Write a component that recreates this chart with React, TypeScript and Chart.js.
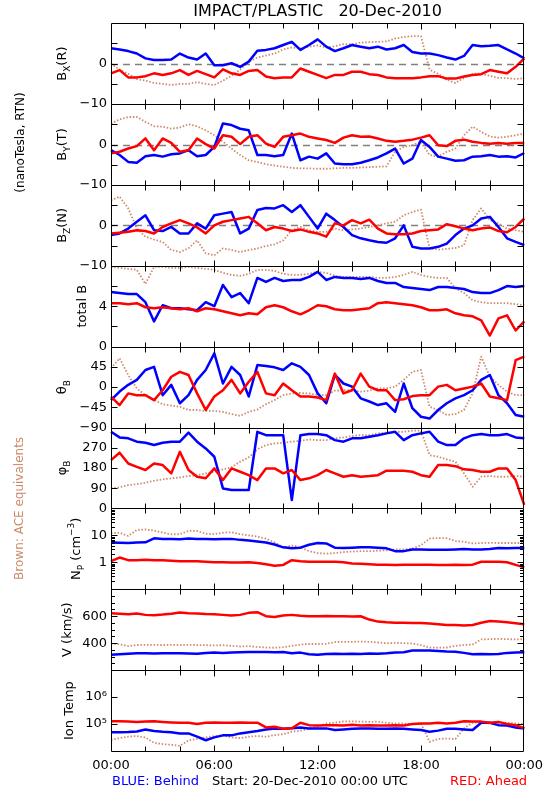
import React, { useEffect, useRef } from 'react';
import { Chart, registerables } from 'chart.js';

Chart.register(...registerables);

const FONT = "'DejaVu Sans', 'Liberation Sans', sans-serif";
const BLUE = '#0000ff';
const RED = '#ff0000';
const BROWN = '#cd8a6b';

// ---- time categories (30-minute steps, 20-Dec-2010 00:00 .. 21-Dec-2010 00:00)
const TIMES = [
  '00:00', '00:30', '01:00', '01:30', '02:00', '02:30', '03:00', '03:30', '04:00', '04:30',
  '05:00', '05:30', '06:00', '06:30', '07:00', '07:30', '08:00', '08:30', '09:00', '09:30',
  '10:00', '10:30', '11:00', '11:30', '12:00', '12:30', '13:00', '13:30', '14:00', '14:30',
  '15:00', '15:30', '16:00', '16:30', '17:00', '17:30', '18:00', '18:30', '19:00', '19:30',
  '20:00', '20:30', '21:00', '21:30', '22:00', '22:30', '23:00', '23:30', '00:00',
];
const X_TICK_LABELS = ['00:00', '06:00', '12:00', '18:00', '00:00'];

// ---- Bx (R), nT
const BX_BLUE = [3.8, 3.5, 3.1, 2.5, 1.3, 0.9, 0.9, 1.0, 2.5, 1.5, 1.0, 2.5, -0.4, -0.4, 0.1, -0.8, 0.5, 3.2, 3.4, 3.8, 4.6, 5.4, 3.4, 4.6, 6.0, 4.2, 3.1, 3.8, 4.6, 4.2, 3.8, 4.2, 3.5, 3.8, 4.6, 2.9, 2.5, 2.5, 2.1, 1.5, 1.0, 1.9, 4.6, 4.3, 4.4, 4.6, 3.5, 2.5, 1.3];
const BX_RED = [-2.4, -1.6, -3.4, -3.4, -3.1, -2.4, -2.8, -2.4, -1.6, -2.8, -1.8, -2.6, -3.4, -1.4, -2.4, -2.8, -1.8, -1.6, -3.2, -3.6, -3.4, -3.4, -1.2, -2.0, -2.8, -3.6, -2.8, -2.8, -2.0, -2.0, -2.6, -2.8, -3.4, -3.6, -3.6, -3.6, -3.4, -3.1, -3.1, -3.7, -3.7, -3.2, -2.8, -2.6, -1.6, -2.0, -2.4, -0.8, 1.3];
const BX_ACE = [0.0, -1.5, -2.5, -3.8, -4.2, -4.8, -5.0, -5.3, -5.0, -5.0, -4.6, -5.0, -5.3, -4.2, -3.0, -1.5, 0.5, 1.5, 2.0, 2.5, 3.5, 4.0, 3.8, 4.2, 4.5, 4.0, 4.3, 4.8, 4.8, 5.2, 5.3, 5.4, 5.5, 6.2, 6.6, 6.8, 6.8, -1.5, -2.5, -4.0, -4.8, -3.5, -2.5, -2.5, -3.0, -3.5, -3.6, -3.8, -3.6];

// ---- By (T), nT
const BY_BLUE = [-1.4, -2.6, -4.3, -4.5, -2.9, -2.6, -3.0, -2.4, -2.2, -1.4, -2.9, -2.6, -0.6, 5.2, 4.8, 3.9, 3.5, -2.6, -2.6, -2.9, -2.6, 2.7, -3.9, -3.0, -3.5, -2.2, -4.7, -4.9, -4.9, -4.5, -3.9, -3.2, -2.2, -1.0, -4.7, -3.5, 1.1, -0.6, -3.0, -3.5, -4.0, -3.9, -3.0, -2.9, -2.6, -3.0, -2.9, -3.2, -2.1];
const BY_RED = [-2.2, -1.8, -1.0, -0.4, 1.5, -1.4, 1.5, 0.4, -1.8, -1.4, 1.5, 0.1, -1.0, 2.3, 1.9, 0.1, 1.9, 2.3, 0.2, -0.6, 1.9, 2.3, 2.7, 1.9, 1.5, 1.1, 0.4, 1.7, 2.3, 1.9, 2.0, 1.5, 0.9, 0.7, 0.9, 1.2, 1.7, 2.3, -0.2, -0.4, 0.9, 1.2, 0.7, 0.4, 0.2, 0.4, 0.2, 0.4, 0.4];
const BY_ACE = [5.2, 6.2, 6.8, 6.8, 5.6, 4.5, 4.4, 3.9, 4.2, 5.0, 4.5, 3.5, 2.3, 0.7, -1.0, -2.6, -3.9, -4.3, -4.9, -5.2, -5.5, -5.8, -5.9, -5.9, -6.0, -6.0, -5.9, -5.8, -5.8, -5.7, -5.6, -5.5, -5.4, -1.8, -0.6, -0.2, 0.7, -2.6, -3.0, -1.8, -1.0, 2.3, 4.4, 3.1, 2.0, 1.7, 1.9, 2.3, 2.7];

// ---- Bz (N), nT
const BZ_BLUE = [-2.4, -2.0, -0.8, 0.9, 2.5, -1.2, -1.4, -0.4, -2.0, -2.0, 0.5, -0.8, 2.5, 2.9, 3.3, -2.0, -0.8, 3.8, 4.3, 4.2, 5.0, 3.3, 5.0, 2.1, -0.8, 2.9, 1.3, -0.4, -2.4, -3.2, -3.7, -4.1, -4.3, -3.2, 0.0, -5.3, -5.7, -5.7, -5.3, -4.5, -2.4, -0.8, 0.0, 1.7, 2.1, -0.4, -3.2, -4.1, -4.9];
const BZ_RED = [-2.0, -1.8, -1.6, -1.2, -1.4, -2.0, -0.4, 0.5, 1.3, 0.5, -0.5, -2.0, 0.0, 0.9, 1.3, 1.7, 2.1, 0.5, -1.2, -0.4, -0.8, -1.4, -1.0, -1.6, -2.0, -2.8, 0.5, 0.0, 1.3, 0.5, 1.4, -0.8, -2.0, -2.2, -2.2, -2.0, -1.4, -1.2, -1.0, 0.3, -0.2, -0.8, -1.2, -0.8, -0.5, -1.4, -1.7, -0.4, 1.7];
const BZ_ACE = [6.2, 7.1, 4.2, -0.8, -2.8, -3.5, -4.1, -6.1, -6.6, -5.7, -3.7, -6.9, -7.4, -5.7, -6.1, -6.6, -6.1, -5.7, -5.1, -4.7, -3.7, -1.2, -0.4, -1.2, -1.6, -1.6, -0.8, -1.2, -1.0, -0.8, -0.4, 0.0, 0.5, 0.9, 2.5, 3.3, 3.9, -5.7, -6.0, -5.8, -5.6, -4.9, 1.3, 4.2, 1.3, 0.5, -0.8, -1.2, -1.6];

// ---- total B, nT
const BT_BLUE = [5.4, 5.3, 5.2, 5.2, 4.4, 2.5, 4.1, 3.8, 3.8, 3.7, 3.6, 4.4, 4.0, 6.1, 4.9, 5.3, 4.3, 6.8, 6.4, 6.8, 6.5, 6.6, 6.6, 6.9, 7.4, 6.6, 6.9, 6.8, 6.8, 6.7, 6.8, 6.5, 6.3, 6.3, 5.9, 5.8, 5.7, 5.6, 5.9, 5.9, 5.8, 5.7, 5.4, 5.3, 5.3, 5.6, 6.0, 5.9, 6.0];
const BT_RED = [4.3, 4.3, 4.2, 4.3, 3.9, 3.8, 3.9, 3.8, 3.7, 3.8, 3.5, 3.8, 3.7, 3.5, 3.3, 3.1, 3.3, 3.2, 3.9, 4.1, 3.9, 3.5, 3.2, 3.6, 4.1, 4.0, 3.7, 3.6, 3.6, 3.7, 3.8, 4.3, 4.4, 4.3, 4.2, 4.1, 3.9, 3.6, 3.6, 3.7, 3.3, 3.1, 3.0, 2.6, 1.1, 2.8, 3.1, 1.6, 2.5];
const BT_ACE = [7.9, 7.8, 7.7, 7.6, 6.2, 7.9, 7.9, 7.8, 7.8, 7.9, 7.8, 7.7, 7.6, 7.3, 7.1, 7.0, 7.2, 7.6, 7.6, 7.5, 7.2, 7.1, 7.1, 7.2, 7.4, 7.3, 7.0, 6.9, 6.9, 6.9, 6.9, 6.8, 6.8, 6.9, 7.1, 7.4, 7.1, 6.9, 6.8, 6.8, 5.8, 5.3, 4.6, 4.4, 4.3, 4.3, 4.3, 4.2, 4.1];

// ---- theta_B, degrees
const TH_BLUE = [-29, -10, 5, 16, 38, 45, -18, 5, -36, -18, 16, 38, 75, 8, 45, 27, -21, 49, 47, 44, 38, 53, 45, 27, -14, -36, 27, 8, 1, -25, -32, -40, -36, -55, 8, -47, -66, -70, -51, -36, -25, -18, -7, 16, 27, -18, -36, -62, -66];
const TH_RED = [-21, -40, -14, -18, -18, -29, -7, 23, 34, 27, -14, -51, -21, -7, 16, -14, 12, 34, -14, -18, 8, -7, -21, -21, -23, -29, 30, -14, -7, 30, 1, -7, -7, -29, -27, -20, -18, -18, 1, 5, -7, -3, 1, 8, -21, -25, -29, 60, 68];
const TH_ACE = [42, 64, 27, -3, -18, -29, -38, -41, -44, -51, -51, -53, -53, -55, -60, -64, -55, -50, -38, -29, -18, -14, -13, -14, -18, -18, -8, -7, -7, -10, -8, -3, -3, 1, 16, 34, 38, -44, -51, -62, -60, -51, -14, 68, 23, 5, -10, -18, -18];

// ---- phi_B, degrees
const PH_BLUE = [341, 316, 312, 297, 292, 282, 292, 297, 297, 337, 297, 267, 230, 89, 82, 82, 82, 341, 326, 326, 326, 37, 326, 331, 331, 326, 304, 297, 312, 312, 319, 326, 334, 341, 304, 326, 334, 341, 297, 282, 282, 312, 326, 331, 326, 326, 331, 316, 312];
const PH_RED = [215, 248, 200, 185, 171, 200, 193, 156, 252, 171, 141, 134, 178, 126, 178, 163, 148, 126, 178, 178, 156, 171, 126, 134, 148, 171, 156, 141, 148, 141, 144, 148, 168, 168, 168, 163, 148, 141, 193, 193, 188, 174, 171, 163, 163, 178, 178, 126, 15];
const PH_ACE = [89, 94, 104, 108, 114, 123, 129, 134, 138, 144, 148, 156, 163, 174, 183, 208, 227, 263, 282, 289, 292, 297, 301, 307, 304, 304, 312, 316, 322, 326, 326, 334, 337, 341, 341, 346, 346, 237, 230, 218, 208, 156, 96, 141, 144, 141, 141, 144, 141];

// ---- proton density, cm^-3
const NP_BLUE = [5.4, 5.3, 5.2, 5.4, 5.5, 7.8, 7.3, 7.3, 7.2, 7.6, 7.4, 7.4, 7.2, 7.3, 7.4, 6.8, 6.4, 5.9, 5.4, 4.6, 3.6, 3.3, 3.5, 4.5, 5.2, 5.0, 3.5, 3.4, 3.5, 3.6, 3.6, 3.5, 3.3, 2.6, 2.6, 3.0, 3.0, 2.9, 2.9, 2.9, 3.0, 3.1, 3.0, 3.0, 3.1, 3.4, 3.3, 3.4, 3.4];
const NP_RED = [1.1, 1.5, 1.2, 1.2, 1.25, 1.2, 1.2, 1.15, 1.1, 1.1, 1.1, 1.05, 1.0, 1.0, 0.98, 0.98, 1.0, 0.95, 0.85, 0.75, 0.8, 1.2, 1.1, 1.05, 1.05, 1.05, 1.05, 1.0, 0.9, 0.88, 0.85, 0.82, 0.82, 0.8, 0.82, 0.82, 0.82, 0.82, 0.8, 0.8, 0.82, 0.8, 0.82, 1.05, 1.05, 1.05, 1.0, 0.8, 0.65];
const NP_ACE = [12, 12.6, 9.5, 16, 16.5, 15, 12.6, 11, 11, 14.6, 14.6, 11.5, 11, 12.6, 13, 11, 10, 9, 7.5, 5.5, 3.5, 4.2, 3.6, 2.6, 2.2, 2.1, 2.2, 2.4, 2.5, 2.6, 2.6, 2.7, 2.8, 3.0, 3.0, 3.2, 4.3, 7.6, 8.0, 7.8, 6.2, 5.8, 5.0, 5.2, 5.3, 5.2, 5.2, 5.2, 5.2];

// ---- bulk speed, km/s
const V_BLUE = [315, 318, 322, 325, 325, 324, 326, 325, 326, 324, 322, 328, 330, 328, 330, 332, 335, 335, 334, 333, 334, 325, 330, 318, 315, 320, 322, 320, 322, 320, 323, 322, 325, 330, 332, 345, 346, 346, 342, 338, 336, 328, 318, 320, 318, 320, 328, 330, 332];
const V_RED = [622, 618, 615, 620, 610, 608, 612, 618, 628, 622, 620, 616, 615, 610, 605, 610, 625, 630, 600, 595, 605, 610, 604, 600, 600, 602, 600, 600, 598, 600, 575, 560, 555, 552, 552, 550, 550, 546, 540, 535, 535, 532, 535, 552, 565, 560, 555, 548, 540];
const V_ACE = [396, 392, 378, 386, 388, 388, 386, 388, 386, 388, 386, 385, 384, 385, 380, 375, 378, 372, 368, 366, 370, 380, 390, 394, 394, 395, 408, 410, 410, 412, 410, 405, 400, 402, 400, 398, 385, 368, 366, 368, 380, 386, 390, 428, 430, 432, 430, 428, 430];

// ---- ion temperature, K
const T_BLUE = [50000, 50000, 51000, 53000, 63000, 55000, 52000, 50000, 45000, 45000, 34000, 25000, 32000, 38000, 38000, 45000, 50000, 55000, 63000, 69000, 67000, 70000, 75000, 69000, 69000, 69000, 60000, 63000, 67000, 69000, 69000, 67000, 67000, 69000, 67000, 63000, 60000, 52000, 57000, 67000, 67000, 63000, 60000, 112000, 112000, 91000, 88000, 75000, 69000];
const T_RED = [128000, 126000, 123000, 120000, 123000, 126000, 120000, 115000, 112000, 112000, 100000, 112000, 115000, 112000, 112000, 115000, 112000, 112000, 75000, 79000, 67000, 70000, 112000, 91000, 88000, 91000, 91000, 88000, 94000, 88000, 91000, 88000, 88000, 91000, 88000, 100000, 105000, 105000, 112000, 105000, 112000, 126000, 123000, 123000, 112000, 120000, 100000, 91000, 70000];
const T_ACE = [26000, 30000, 34000, 36000, 32000, 20000, 18000, 17000, 15500, 25000, 28000, 32000, 36000, 38000, 32000, 30000, 34000, 36000, 34000, 39000, 42000, 52000, 57000, 67000, 79000, 105000, 112000, 126000, 126000, 123000, 120000, 123000, 112000, 105000, 105000, 100000, 105000, 22000, 28000, 29000, 28000, 69000, 112000, 112000, 105000, 105000, 112000, 105000, 100000];

// ---- axis tick values / labels
const B_TICKS = [-10, -5, 0, 5, 10];
const B_LABELS = ['−10', '', '0', '', ''];
const BT_TICKS = [0, 2, 4, 6, 8];
const BT_LABELS = ['0', '', '4', '', ''];
const TH_TICKS = [-90, -45, 0, 45, 90];
const TH_LABELS = ['−90', '−45', '0', '45', ''];
const PH_TICKS = [0, 90, 180, 270, 360];
const PH_LABELS = ['0', '90', '180', '270', ''];
const NP_TICKS = [0.1, 1, 10, 100];
const NP_LABELS = ['', '1', '10', ''];
const NP_MINOR = [0.2, 0.3, 0.4, 0.5, 0.6, 0.7, 0.8, 0.9, 2, 3, 4, 5, 6, 7, 8, 9, 20, 30, 40, 50, 60, 70, 80, 90];
const V_TICKS = [200, 400, 600, 800];
const V_LABELS = ['', '400', '600', ''];
const V_MINOR = [250, 300, 350, 450, 500, 550, 650, 700, 750];
const T_TICKS = [1e4, 1e5, 1e6, 1e7];
const T_LABELS = ['', '10⁵', '10⁶', ''];

type Seg = { t: string; sub?: boolean; sup?: boolean };
type Panel = {
  id: string; type: 'linear' | 'logarithmic'; min: number; max: number;
  ticks: number[]; labels: string[]; minor: number[]; zero: boolean;
  title: Seg[]; titleX: number;
  red: number[]; blue: number[]; ace: number[];
};

// top to bottom
const PANELS: Panel[] = [
  { id: 'yBx', type: 'linear', min: -10, max: 10, ticks: B_TICKS, labels: B_LABELS, minor: [], zero: true,
    title: [{ t: 'B' }, { t: 'X', sub: true }, { t: '(R)' }], titleX: 63, red: BX_RED, blue: BX_BLUE, ace: BX_ACE },
  { id: 'yBy', type: 'linear', min: -10, max: 10, ticks: B_TICKS, labels: B_LABELS, minor: [], zero: true,
    title: [{ t: 'B' }, { t: 'Y', sub: true }, { t: '(T)' }], titleX: 63, red: BY_RED, blue: BY_BLUE, ace: BY_ACE },
  { id: 'yBz', type: 'linear', min: -10, max: 10, ticks: B_TICKS, labels: B_LABELS, minor: [], zero: true,
    title: [{ t: 'B' }, { t: 'Z', sub: true }, { t: '(N)' }], titleX: 63, red: BZ_RED, blue: BZ_BLUE, ace: BZ_ACE },
  { id: 'yBt', type: 'linear', min: 0, max: 8, ticks: BT_TICKS, labels: BT_LABELS, minor: [], zero: false,
    title: [{ t: 'total B' }], titleX: 83, red: BT_RED, blue: BT_BLUE, ace: BT_ACE },
  { id: 'yTh', type: 'linear', min: -90, max: 90, ticks: TH_TICKS, labels: TH_LABELS, minor: [], zero: false,
    title: [{ t: 'θ' }, { t: 'B', sub: true }], titleX: 63, red: TH_RED, blue: TH_BLUE, ace: TH_ACE },
  { id: 'yPh', type: 'linear', min: 0, max: 360, ticks: PH_TICKS, labels: PH_LABELS, minor: [], zero: false,
    title: [{ t: 'φ' }, { t: 'B', sub: true }], titleX: 63, red: PH_RED, blue: PH_BLUE, ace: PH_ACE },
  { id: 'yNp', type: 'logarithmic', min: 0.1, max: 100, ticks: NP_TICKS, labels: NP_LABELS, minor: NP_MINOR, zero: false,
    title: [{ t: 'N' }, { t: 'P', sub: true }, { t: ' (cm' }, { t: '−3', sup: true }, { t: ')' }], titleX: 77, red: NP_RED, blue: NP_BLUE, ace: NP_ACE },
  { id: 'yV', type: 'linear', min: 200, max: 800, ticks: V_TICKS, labels: V_LABELS, minor: V_MINOR, zero: false,
    title: [{ t: 'V (km/s)' }], titleX: 68, red: V_RED, blue: V_BLUE, ace: V_ACE },
  { id: 'yT', type: 'logarithmic', min: 1e4, max: 1e7, ticks: T_TICKS, labels: T_LABELS, minor: [], zero: false,
    title: [{ t: 'Ion Temp' }], titleX: 70, red: T_RED, blue: T_BLUE, ace: T_ACE },
];

function drawVertical(ctx: CanvasRenderingContext2D, segs: Seg[], cx: number, cy: number, size: number, color: string) {
  const small = Math.round(size * 0.7);
  ctx.save();
  ctx.translate(cx, cy);
  ctx.rotate(-Math.PI / 2);
  ctx.fillStyle = color;
  ctx.textBaseline = 'middle';
  ctx.textAlign = 'left';
  let total = 0;
  const widths = segs.map((s) => {
    ctx.font = `${s.sub || s.sup ? small : size}px ${FONT}`;
    const w = ctx.measureText(s.t).width;
    total += w;
    return w;
  });
  let x = -total / 2;
  segs.forEach((s, i) => {
    ctx.font = `${s.sub || s.sup ? small : size}px ${FONT}`;
    const dy = s.sub ? size * 0.38 : s.sup ? -size * 0.4 : 0;
    ctx.fillText(s.t, x, dy);
    x += widths[i];
  });
  ctx.restore();
}

function drawText(ctx: CanvasRenderingContext2D, t: string, x: number, y: number, size: number, color: string) {
  ctx.save();
  ctx.font = `${size}px ${FONT}`;
  ctx.fillStyle = color;
  ctx.textBaseline = 'middle';
  ctx.textAlign = 'left';
  ctx.fillText(t, x, y);
  ctx.restore();
}

const decorPlugin = {
  id: 'panelDecor',
  beforeDatasetsDraw(chart: any) {
    const ctx: CanvasRenderingContext2D = chart.ctx;
    const { left, right } = chart.chartArea;
    ctx.save();
    ctx.setLineDash([7, 5]);
    ctx.strokeStyle = '#808080';
    ctx.lineWidth = 1.3;
    PANELS.filter((p) => p.zero).forEach((p) => {
      const s = chart.scales[p.id];
      const y = Math.round(s.getPixelForValue(0)) + 0.5;
      ctx.beginPath();
      ctx.moveTo(left, y);
      ctx.lineTo(right, y);
      ctx.stroke();
    });
    ctx.restore();
  },
  afterDatasetsDraw(chart: any) {
    const ctx: CanvasRenderingContext2D = chart.ctx;
    const { left, right } = chart.chartArea;
    const xs = chart.scales.x;
    const L = Math.round(left) + 0.5;
    const R = Math.round(right) - 0.5;
    ctx.save();
    ctx.strokeStyle = '#000';
    ctx.lineWidth = 1;
    PANELS.forEach((p) => {
      const s = chart.scales[p.id];
      const top = Math.round(s.top) + 0.5;
      const bottom = Math.round(s.bottom) + 0.5;
      ctx.beginPath();
      ctx.rect(L, top, R - L, bottom - top);
      // y ticks on both sides, pointing inwards
      const marks: [number, number][] = [];
      p.ticks.forEach((v) => { if (v > p.min && v < p.max) marks.push([v, 6]); });
      p.minor.forEach((v) => marks.push([v, 3.5]));
      marks.forEach(([v, len]) => {
        const y = Math.round(s.getPixelForValue(v)) + 0.5;
        ctx.moveTo(L, y); ctx.lineTo(L + len, y);
        ctx.moveTo(R, y); ctx.lineTo(R - len, y);
      });
      // x ticks every 2 hours on top and bottom
      for (let i = 4; i < TIMES.length - 1; i += 4) {
        const x = Math.round(xs.getPixelForValue(i)) + 0.5;
        const len = i % 12 === 0 ? 6 : 5;
        ctx.moveTo(x, top); ctx.lineTo(x, top + len);
        ctx.moveTo(x, bottom); ctx.lineTo(x, bottom - len);
      }
      ctx.stroke();
    });
    ctx.restore();
  },
  afterDraw(chart: any) {
    const ctx: CanvasRenderingContext2D = chart.ctx;
    PANELS.forEach((p) => {
      const s = chart.scales[p.id];
      drawVertical(ctx, p.title, p.titleX, (s.top + s.bottom) / 2, 13, '#000');
    });
    const bx = chart.scales.yBx;
    const bz = chart.scales.yBz;
    drawVertical(ctx, [{ t: '(nanoTesla, RTN)' }], 21, (bx.top + bz.bottom) / 2 - 2, 12, '#000');
    drawVertical(ctx, [{ t: 'Brown: ACE equivalents' }], 20, chart.scales.yNp.top, 12, BROWN);
    drawText(ctx, 'BLUE: Behind', 112, 782, 13, BLUE);
    drawText(ctx, 'Start: 20-Dec-2010 00:00 UTC', 212, 782, 13, '#000');
    drawText(ctx, 'RED: Ahead', 450, 782, 13, RED);
  },
};

function makeDatasets() {
  const out: any[] = [];
  PANELS.forEach((p) => {
    out.push({ label: p.id + ' Ahead', data: p.red, yAxisID: p.id, borderColor: RED, borderWidth: 2.5, order: 0 });
    out.push({ label: p.id + ' Behind', data: p.blue, yAxisID: p.id, borderColor: BLUE, borderWidth: 2.5, order: 1 });
    out.push({ label: p.id + ' ACE', data: p.ace, yAxisID: p.id, borderColor: BROWN, borderWidth: 1.8, borderDash: [1.5, 1.8], order: 2 });
  });
  return out.map((d) => ({
    ...d,
    xAxisID: 'x',
    pointRadius: 0,
    tension: 0,
    fill: false,
    borderJoinStyle: 'round',
    backgroundColor: d.borderColor,
  }));
}

function makeScales() {
  const scales: any = {
    x: {
      type: 'category',
      position: 'bottom',
      grid: { display: false, drawTicks: false },
      border: { display: false },
      ticks: {
        autoSkip: false,
        maxRotation: 0,
        minRotation: 0,
        padding: 7,
        color: '#000',
        font: { family: FONT, size: 13 },
        callback: (_v: any, i: number) => (i % 12 === 0 ? X_TICK_LABELS[i / 12] : ''),
      },
      afterFit: (s: any) => { s.height = 49; },
    },
  };
  // defined bottom-first so the stacked layout places the first panel on top
  [...PANELS].reverse().forEach((p) => {
    scales[p.id] = {
      type: p.type,
      position: 'left',
      stack: 'panels',
      stackWeight: 1,
      min: p.min,
      max: p.max,
      grid: { display: false, drawTicks: false },
      border: { display: false },
      afterBuildTicks: (s: any) => { s.ticks = p.ticks.map((v) => ({ value: v })); },
      ticks: {
        autoSkip: false,
        padding: 4,
        color: '#000',
        font: { family: FONT, size: 13 },
        callback: (_v: any, i: number) => p.labels[i] ?? '',
      },
      afterFit: (s: any) => { s.width = 111; },
    };
  });
  return scales;
}

export default function App() {
  const ref = useRef<HTMLCanvasElement>(null);
  useEffect(() => {
    if (!ref.current) return;
    const chart = new Chart(ref.current, {
      type: 'line',
      data: { labels: TIMES, datasets: makeDatasets() },
      options: {
        responsive: false,
        animation: false,
        devicePixelRatio: 1,
        events: [],
        layout: { padding: { left: 0, right: 24, top: 0, bottom: 0 } },
        plugins: {
          legend: { display: false },
          tooltip: { enabled: false },
          title: {
            display: true,
            text: 'IMPACT/PLASTIC   20-Dec-2010',
            fullSize: false,
            color: '#000',
            font: { family: FONT, size: 16, weight: 'normal' },
            padding: { top: 2, bottom: 2 },
          },
        },
        scales: makeScales(),
      } as any,
      plugins: [decorPlugin],
    });
    return () => chart.destroy();
  }, []);
  return (
    <div style={{ position: 'absolute', left: 0, top: 0, width: 550, height: 800, background: '#fff' }}>
      <canvas ref={ref} width={550} height={800} style={{ display: 'block', width: 550, height: 800 }} />
    </div>
  );
}
